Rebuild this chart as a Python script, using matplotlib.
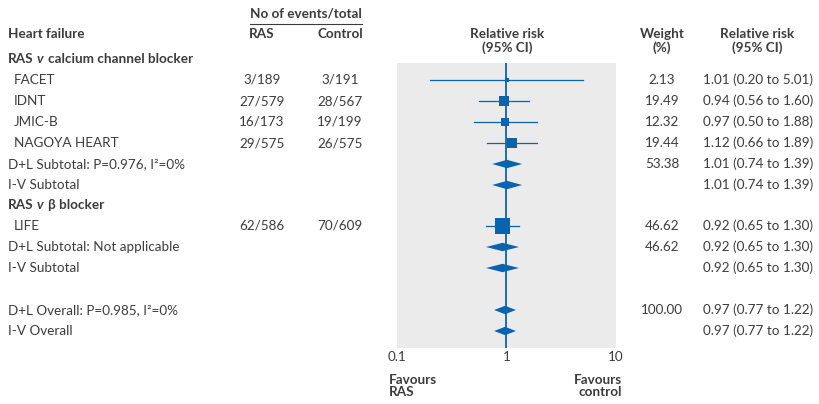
import matplotlib
matplotlib.use("Agg")
import matplotlib.pyplot as plt
from matplotlib.patches import Polygon

plt.rcParams['font.family'] = ['Lato', 'DejaVu Sans']

# ---------------- data ----------------
studies = ["FACET", "IDNT", "JMIC-B", "NAGOYA HEART", "LIFE"]
study_group = [0, 0, 0, 0, 1]
ras_events = ["3/189", "27/579", "16/173", "29/575", "62/586"]
ctrl_events = ["3/191", "28/567", "19/199", "26/575", "70/609"]
study_rr = [1.01, 0.94, 0.97, 1.12, 0.92]
study_lo = [0.20, 0.56, 0.50, 0.66, 0.65]
study_hi = [5.01, 1.60, 1.88, 1.89, 1.30]
study_weight = [2.13, 19.49, 12.32, 19.44, 46.62]

group_names = ["calcium channel blocker", "\u03b2 blocker"]

pooled_labels = ["D+L Subtotal: P=0.976, I\u00b2=0%", "I-V Subtotal",
                 "D+L Subtotal: Not applicable", "I-V Subtotal",
                 "D+L Overall: P=0.985, I\u00b2=0%", "I-V Overall"]
pooled_rr = [1.01, 1.01, 0.92, 0.92, 0.97, 0.97]
pooled_lo = [0.74, 0.74, 0.65, 0.65, 0.77, 0.77]
pooled_hi = [1.39, 1.39, 1.30, 1.30, 1.22, 1.22]
pooled_weight = ["53.38", "", "46.62", "", "100.00", ""]

xticks = [0.1, 1, 10]
xtick_labels = ["0.1", "1", "10"]

# ---------------- layout (pixels) ----------------
W, H = 820, 404
fig = plt.figure(figsize=(W / 100, H / 100), dpi=100)
bg = fig.add_axes([0, 0, 1, 1])
bg.set_xlim(0, W)
bg.set_ylim(H, 0)
bg.axis("off")

px0, px1 = 397, 616
py0, py1 = 63, 348
ax = fig.add_axes([px0 / W, 1 - py1 / H, (px1 - px0) / W, (py1 - py0) / H])
ax.set_xscale("log")
ax.set_xlim(0.1, 10)
ax.set_ylim(py1, py0)
ax.set_facecolor("#ebebeb")
for s in ax.spines.values():
    s.set_visible(False)
ax.set_xticks([])
ax.set_yticks([])
ax.minorticks_off()

BLUE = "#0a64ad"
TXT = "#3c3c3c"
FS = 9.7

# row positions
study_y = [80, 101, 122, 143, 226]
group_y = [59, 205]
pooled_y = [164, 185, 247, 268, 310, 331]

# null line
ax.plot([1, 1], [py0, py1], color=BLUE, lw=1.3, zorder=2)

# studies
for i in range(len(studies)):
    y = study_y[i]
    ax.plot([study_lo[i], study_hi[i]], [y, y], color=BLUE, lw=0.9, zorder=3)
    ax.scatter([study_rr[i]], [y], marker="s", s=max(2.6 * study_weight[i], 8),
               color=BLUE, edgecolors="none", zorder=4)
    bg.text(14, y, studies[i], fontsize=FS, color=TXT, va="center", ha="left")
    bg.text(262, y, ras_events[i], fontsize=FS, color=TXT, va="center", ha="center")
    bg.text(340, y, ctrl_events[i], fontsize=FS, color=TXT, va="center", ha="center")
    bg.text(662, y, f"{study_weight[i]:.2f}", fontsize=FS, color=TXT, va="center", ha="center")
    bg.text(703, y, f"{study_rr[i]:.2f} ({study_lo[i]:.2f} to {study_hi[i]:.2f})",
            fontsize=FS, color=TXT, va="center", ha="left")

# pooled
for i in range(len(pooled_labels)):
    y = pooled_y[i]
    poly = Polygon([(pooled_lo[i], y), (pooled_rr[i], y - 4.2),
                    (pooled_hi[i], y), (pooled_rr[i], y + 4.2)],
                   closed=True, facecolor=BLUE, edgecolor="none", zorder=4)
    ax.add_patch(poly)
    bg.text(8, y, pooled_labels[i], fontsize=FS, color=TXT, va="center", ha="left")
    if pooled_weight[i]:
        bg.text(662, y, pooled_weight[i], fontsize=FS, color=TXT, va="center", ha="center")
    bg.text(703, y, f"{pooled_rr[i]:.2f} ({pooled_lo[i]:.2f} to {pooled_hi[i]:.2f})",
            fontsize=FS, color=TXT, va="center", ha="left")

# group headings with italic v
fig.canvas.draw()
renderer = fig.canvas.get_renderer()
inv = bg.transData.inverted()
for g, y in zip(group_names, group_y):
    x = 8
    for piece, style, gap in [("RAS", "normal", 3.0), ("v", "italic", 4.5), (g, "normal", 0)]:
        t = bg.text(x, y, piece, fontsize=FS, color=TXT, va="center", ha="left",
                    fontweight="bold", fontstyle=style)
        bb = t.get_window_extent(renderer=renderer)
        x = inv.transform((bb.x1, 0))[0] + gap

# headers
bg.text(8, 34, "Heart failure", fontsize=FS, color=TXT, fontweight="bold", va="center", ha="left")
bg.text(306, 13, "No of events/total", fontsize=FS, color=TXT, fontweight="bold", va="center", ha="center")
bg.plot([250, 362], [24, 24], color=TXT, lw=0.8)
bg.text(262, 34, "RAS", fontsize=FS, color=TXT, fontweight="bold", va="center", ha="center")
bg.text(340, 34, "Control", fontsize=FS, color=TXT, fontweight="bold", va="center", ha="center")
bg.text(507, 41, "Relative risk\n(95% CI)", fontsize=FS, color=TXT, fontweight="bold",
        va="center", ha="center", linespacing=1.1)
bg.text(662, 41, "Weight\n(%)", fontsize=FS, color=TXT, fontweight="bold",
        va="center", ha="center", linespacing=1.1)
bg.text(757, 41, "Relative risk\n(95% CI)", fontsize=FS, color=TXT, fontweight="bold",
        va="center", ha="center", linespacing=1.1)

# tick labels
for v, lab in zip(xticks, xtick_labels):
    xd = ax.transData.transform((v, py1))[0]
    xp = inv.transform((xd, 0))[0]
    bg.text(xp, 357, lab, fontsize=FS, color=TXT, va="center", ha="center")

bg.text(389, 386, "Favours\nRAS", fontsize=FS, color=TXT, fontweight="bold",
        va="center", ha="left", linespacing=1.05)
bg.text(622, 386, "Favours\ncontrol", fontsize=FS, color=TXT, fontweight="bold",
        va="center", ha="right", linespacing=1.05)

fig.savefig("out.png", dpi=100, facecolor="white")
